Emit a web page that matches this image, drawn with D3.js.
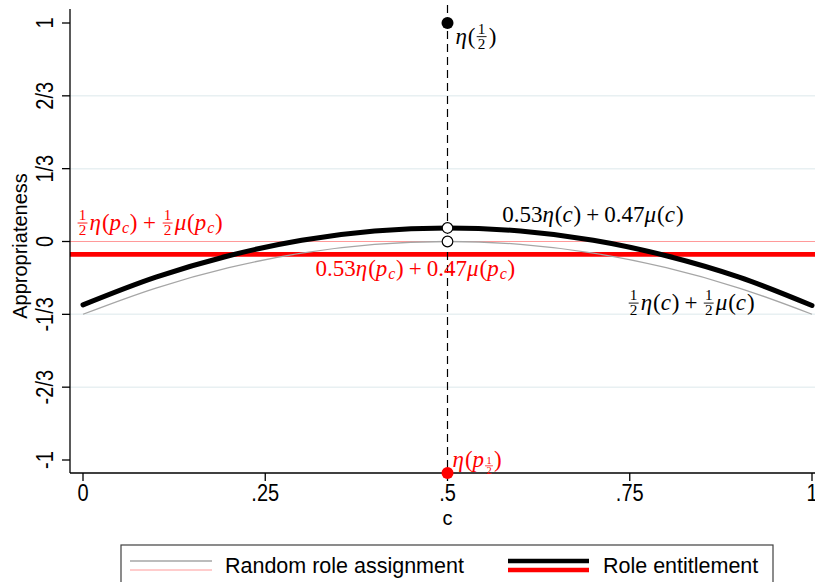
<!DOCTYPE html>
<html><head><meta charset="utf-8">
<script src="https://cdn.jsdelivr.net/npm/d3@7"></script>
<style>body{margin:0;background:#fff}svg{display:block}</style>
</head><body>
<svg id="chart" width="815" height="582"></svg>
<script>
// ---------- data ----------
const cGrid = [0, 0.1, 0.2, 0.3, 0.4, 0.5, 0.6, 0.7, 0.8, 0.9, 1];
const randomCurve = [-0.333, -0.213, -0.12, -0.053, -0.013, 0, -0.013, -0.053, -0.12, -0.213, -0.333];
const entitleCurve = [-0.29, -0.163, -0.065, 0.006, 0.048, 0.062, 0.048, 0.006, -0.065, -0.163, -0.293];
const randomLevel = 0;          // 1/2 eta(pc) + 1/2 mu(pc)
const entitleLevel = -0.059;    // 0.53 eta(pc) + 0.47 mu(pc)
const cMid = 0.5;
const etaHalf = 1;
const etaPHalf = -1.06;
const xTicks = [0, 0.25, 0.5, 0.75, 1];
const xTickLabels = ["0", ".25", ".5", ".75", "1"];
const yTicks = [1, 2/3, 1/3, 0, -1/3, -2/3, -1];
const yTickLabels = ["1", "2/3", "1/3", "0", "-1/3", "-2/3", "-1"];
const gridTicks = [2/3, 1/3, -1/3, -2/3];
const legendLabels = ["Random role assignment", "Role entitlement"];

// ---------- scales ----------
const svg = d3.select("#chart");
const x = d3.scaleLinear().domain([0, 1]).range([83, 812]);
const y = d3.scaleLinear().domain([-1, 1]).range([460, 23]);
const plotLeft = 70, plotRight = 815, plotTop = 9, plotBottom = 473;

const sans = "'Liberation Sans', Arial, sans-serif";
const serif = "'Liberation Serif', 'Times New Roman', serif";

// gridlines
svg.append("g").selectAll("line").data(gridTicks).join("line")
  .attr("x1", plotLeft).attr("x2", plotRight)
  .attr("y1", d => y(d)).attr("y2", d => y(d))
  .attr("stroke", "#e8f0f2").attr("stroke-width", 1.5);

// horizontal level lines
svg.append("line").attr("x1", plotLeft).attr("x2", plotRight)
  .attr("y1", y(randomLevel)).attr("y2", y(randomLevel))
  .attr("stroke", "#ff9a9a").attr("stroke-width", 1.2);
svg.append("line").attr("x1", plotLeft).attr("x2", plotRight)
  .attr("y1", y(entitleLevel)).attr("y2", y(entitleLevel))
  .attr("stroke", "#ff0000").attr("stroke-width", 4.8);

// curves
const line = d3.line().x((d, i) => x(cGrid[i])).y(d => y(d)).curve(d3.curveCatmullRom);
svg.append("path").attr("d", line(randomCurve)).attr("fill", "none")
  .attr("stroke", "#a6a6a6").attr("stroke-width", 1.3);
svg.append("path").attr("d", line(entitleCurve)).attr("fill", "none")
  .attr("stroke", "#000").attr("stroke-width", 5).attr("stroke-linecap", "round");

// dashed vertical
svg.append("line").attr("x1", x(cMid)).attr("x2", x(cMid))
  .attr("y1", 5).attr("y2", plotBottom)
  .attr("stroke", "#000").attr("stroke-width", 1.2).attr("stroke-dasharray", "8,5");

// axes
const yAxis = svg.append("g");
yAxis.append("line").attr("x1", plotLeft).attr("x2", plotLeft).attr("y1", plotTop).attr("y2", plotBottom)
  .attr("stroke", "#000").attr("stroke-width", 1.3);
yAxis.selectAll("line.tk").data(yTicks).join("line").attr("class", "tk")
  .attr("x1", plotLeft - 8).attr("x2", plotLeft).attr("y1", d => y(d)).attr("y2", d => y(d))
  .attr("stroke", "#000").attr("stroke-width", 1.3);
yAxis.selectAll("text").data(yTicks).join("text")
  .attr("transform", d => `translate(53,${y(d)}) rotate(-90) scale(1,1.22)`)
  .attr("text-anchor", "middle").attr("font-family", sans).attr("font-size", 20)
  .text((d, i) => yTickLabels[i]);
svg.append("text").attr("transform", "translate(27,246) rotate(-90)")
  .attr("text-anchor", "middle").attr("font-family", sans).attr("font-size", 20)
  .text("Appropriateness");

const xAxis = svg.append("g");
xAxis.append("line").attr("x1", plotLeft).attr("x2", plotRight).attr("y1", plotBottom).attr("y2", plotBottom)
  .attr("stroke", "#000").attr("stroke-width", 1.3);
xAxis.selectAll("line.tk").data(xTicks).join("line").attr("class", "tk")
  .attr("x1", d => x(d)).attr("x2", d => x(d)).attr("y1", plotBottom).attr("y2", plotBottom + 8)
  .attr("stroke", "#000").attr("stroke-width", 1.3);
xAxis.selectAll("text").data(xTicks).join("text")
  .attr("transform", d => `translate(${x(d)},501) scale(1,1.22)`)
  .attr("text-anchor", "middle").attr("font-family", sans).attr("font-size", 20)
  .text((d, i) => xTickLabels[i]);
svg.append("text").attr("x", x(0.5)).attr("y", 525).attr("text-anchor", "middle")
  .attr("font-family", sans).attr("font-size", 20).text("c");

// markers
svg.append("circle").attr("cx", x(cMid)).attr("cy", y(etaHalf)).attr("r", 6).attr("fill", "#000");
svg.append("circle").attr("cx", x(cMid)).attr("cy", y(etaPHalf)).attr("r", 6).attr("fill", "#ff0000");
[entitleCurve[cGrid.indexOf(cMid)], randomCurve[cGrid.indexOf(cMid)]].forEach(v => {
  svg.append("circle").attr("cx", x(cMid)).attr("cy", y(v)).attr("r", 5.3)
    .attr("fill", "#fff").attr("stroke", "#000").attr("stroke-width", 1.2);
});

// ---------- math labels (one <text> per label, tspans positioned) ----------
function measure(str, fs, it) {
  const t = svg.append("text").attr("font-family", serif).attr("font-size", fs)
    .attr("font-style", it ? "italic" : "normal").text(str);
  const w = t.node().getComputedTextLength();
  t.remove();
  return w;
}
function mathLabel(px, py, parts, color, s) {
  const g = svg.append("g");
  const text = g.append("text").attr("fill", color).attr("font-family", serif).attr("font-size", s);
  let cx = px;
  const span = (str, xx, yy, fs, it, anchor) => {
    text.append("tspan").attr("x", xx).attr("y", yy).attr("font-size", fs)
      .attr("font-style", it ? "italic" : "normal").attr("text-anchor", anchor || "start").text(str);
  };
  parts.forEach(p => {
    if (p.gap !== undefined) { cx += p.gap * s; return; }
    if (p.frac || p.subfrac) {
      const sub = !!p.subfrac, f = p.frac || p.subfrac;
      const fs = s * (sub ? 0.45 : 0.66), pad = (sub ? 0.06 : 0.1) * s;
      const w = measure(f[0], fs, false) + 2 * pad;
      const nY = sub ? -0.15 : -0.42, dY = sub ? 0.3 : 0.22, bY = sub ? -0.07 : -0.3;
      span(f[0], cx + w / 2, py + nY * s, fs, false, "middle");
      span(f[1], cx + w / 2, py + dY * s, fs, false, "middle");
      g.append("line").attr("x1", cx + (sub ? 0 : pad * 0.5)).attr("x2", cx + w - (sub ? 0 : pad * 0.5))
        .attr("y1", py + bY * s).attr("y2", py + bY * s).attr("stroke", color).attr("stroke-width", sub ? 0.7 : 0.9);
      cx += w + 0.04 * s;
      return;
    }
    if (p.sub) {
      span(p.sub, cx, py + 0.15 * s, s * 0.7, true);
      cx += measure(p.sub, s * 0.7, true) + 0.03 * s;
      return;
    }
    span(p.t, cx, py, s, p.i);
    cx += measure(p.t, s, p.i) + (p.i ? 0.04 * s : 0);
  });
}
const P = "+";
const S = 23;
// 1/2 eta(pc) + 1/2 mu(pc)  (red, left)
mathLabel(x(-0.009), y(0.053), [{frac:["1","2"]},{t:"η",i:true},{t:"("},{t:"p",i:true},{sub:"c"},{t:")"},
  {gap:0.24},{t:P},{gap:0.24},{frac:["1","2"]},{t:"μ",i:true},{t:"("},{t:"p",i:true},{sub:"c"},{t:")"}], "#ff0000", S);
// 0.53 eta(pc) + 0.47 mu(pc) (red)
mathLabel(x(0.319), y(-0.158), [{t:"0.53"},{t:"η",i:true},{t:"("},{t:"p",i:true},{sub:"c"},{t:")"},
  {gap:0.22},{t:P},{gap:0.22},{t:"0.47"},{t:"μ",i:true},{t:"("},{t:"p",i:true},{sub:"c"},{t:")"}], "#ff0000", S);
// 0.53 eta(c) + 0.47 mu(c) (black)
mathLabel(x(0.575), y(0.089), [{t:"0.53"},{t:"η",i:true},{t:"("},{t:"c",i:true},{t:")"},
  {gap:0.22},{t:P},{gap:0.22},{t:"0.47"},{t:"μ",i:true},{t:"("},{t:"c",i:true},{t:")"}], "#000", S);
// 1/2 eta(c) + 1/2 mu(c) (black)
mathLabel(x(0.747), y(-0.3135), [{frac:["1","2"]},{t:"η",i:true},{t:"("},{t:"c",i:true},{t:")"},
  {gap:0.22},{t:P},{gap:0.22},{frac:["1","2"]},{t:"μ",i:true},{t:"("},{t:"c",i:true},{t:")"}], "#000", S);
// eta(p_1/2) red
mathLabel(x(0.507), y(-1.034), [{t:"η",i:true},{t:"("},{t:"p",i:true},{subfrac:["1","2"]},{t:")"}], "#ff0000", S);
// eta(1/2) black
mathLabel(x(0.511), y(0.906), [{t:"η",i:true},{t:"("},{frac:["1","2"]},{t:")"}], "#000", S);

// ---------- legend ----------
const lg = svg.append("g");
lg.append("rect").attr("x", 121).attr("y", 545).attr("width", 652).attr("height", 60)
  .attr("fill", "#fff").attr("stroke", "#404040").attr("stroke-width", 1.2);
lg.append("line").attr("x1", 130).attr("x2", 212).attr("y1", 561).attr("y2", 561).attr("stroke", "#a6a6a6").attr("stroke-width", 1.3);
lg.append("line").attr("x1", 130).attr("x2", 212).attr("y1", 570).attr("y2", 570).attr("stroke", "#ff9a9a").attr("stroke-width", 1.2);
lg.append("text").attr("transform", "translate(225,573) scale(1,1.06)").attr("font-family", sans).attr("font-size", 21.5).text(legendLabels[0]);
lg.append("line").attr("x1", 508).attr("x2", 589).attr("y1", 561).attr("y2", 561).attr("stroke", "#000").attr("stroke-width", 4.6);
lg.append("line").attr("x1", 508).attr("x2", 589).attr("y1", 570).attr("y2", 570).attr("stroke", "#ff0000").attr("stroke-width", 4.6);
lg.append("text").attr("transform", "translate(603,573) scale(1,1.06)").attr("font-family", sans).attr("font-size", 21.5).text(legendLabels[1]);
</script>
</body></html>
